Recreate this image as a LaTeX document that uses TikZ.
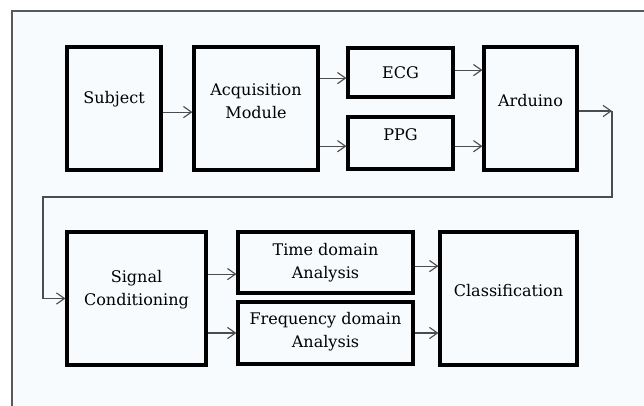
\documentclass[tikz,border=0pt]{standalone}
\usepackage{fontspec}
\setmainfont{DejaVu Serif}
\usetikzlibrary{arrows.meta}
\definecolor{panel}{HTML}{F8FBFD}
\begin{document}
\begin{tikzpicture}[x=0.025cm,y=-0.025cm,
    blk/.style={draw,line width=2.2pt,inner sep=0pt},
    txt/.style={font=\fontsize{11.4}{16.5}\selectfont,text=black,align=center,inner sep=0pt},
    wire/.style={draw=black!70,line width=0.8pt,->,>={Straight Barb[length=2mm,width=2.8mm]}}]
  \useasboundingbox (0,0) rectangle (644,406);
  % panel and its frame
  \fill[panel] (12,11) rectangle (644,406);
  \draw[black!65,line width=1.2pt] (12,406)--(12,11)--(644,11);
  % top row
  \node[blk,minimum width=2.35cm,minimum height=3.075cm] (subj) at (114,108.5) {};
  \node[blk,minimum width=3.1cm,minimum height=3.075cm] (acq) at (256,108.5) {};
  \node[blk,minimum width=2.625cm,minimum height=1.225cm] (ecg) at (400.5,72.5) {};
  \node[blk,minimum width=2.625cm,minimum height=1.3cm] (ppg) at (400.5,143) {};
  \node[blk,minimum width=2.325cm,minimum height=3.075cm] (ard) at (530.5,108.5) {};
  \node[txt] (subjtxt) at ([yshift=2.4mm]subj.center) {Subject};
  \node[txt] (acqtxt) at ([yshift=1.9mm]acq.center) {Acquisition\\Module};
  \node[txt] (ecgtxt) at (ecg.center) {ECG};
  \node[txt] (ppgtxt) at ([yshift=2mm]ppg.center) {PPG};
  \node[txt] (ardtxt) at ([yshift=2.1mm]ard.center) {Arduino};
  % bottom row
  \node[blk,minimum width=3.475cm,minimum height=3.325cm] (sig) at (136.5,298.5) {};
  \node[blk,minimum width=4.375cm,minimum height=1.525cm] (time) at (325.5,262.5) {};
  \node[blk,minimum width=4.375cm,minimum height=1.55cm] (freq) at (325.5,333) {};
  \node[blk,minimum width=3.425cm,minimum height=3.325cm] (cls) at (508.5,298.5) {};
  \node[txt] (sigtxt) at ([yshift=2.25mm]sig.center) {Signal\\Conditioning};
  \node[txt] (timetxt) at (time.center) {Time domain\\Analysis};
  \node[txt] (freqtxt) at ([yshift=0.4mm]freq.center) {Frequency domain\\Analysis};
  \node[txt] (clstxt) at ([yshift=2.1mm]cls.center) {Classification};
  % connectors
  \coordinate (turn) at (612,111);
  \coordinate (drop) at (43,197);
  \draw[wire] ([yshift=-0.9mm]subj.east) -- ([yshift=-0.9mm]acq.west);
  \draw[wire] ([yshift=-1.4mm]ecg.west -| acq.east) -- ([yshift=-1.4mm]ecg.west);
  \draw[wire] ([yshift=-0.8mm]ppg.west -| acq.east) -- ([yshift=-0.8mm]ppg.west);
  \draw[wire] ([yshift=0.6mm]ecg.east) -- ([yshift=0.6mm]ecg.east -| ard.west);
  \draw[wire] ([yshift=-0.8mm]ppg.east) -- ([yshift=-0.8mm]ppg.east -| ard.west);
  \draw[wire] (ard.east |- turn) -- (turn);
  \draw[wire] (turn) |- (drop) |- (sig.west);
  \draw[wire] ([yshift=-2.9mm]time.west -| sig.east) -- ([yshift=-2.9mm]time.west);
  \draw[wire] (freq.west -| sig.east) -- (freq.west);
  \draw[wire] ([yshift=-0.9mm]time.east) -- ([yshift=-0.9mm]time.east -| cls.west);
  \draw[wire] (freq.east) -- (freq.east -| cls.west);
\end{tikzpicture}
\end{document}
